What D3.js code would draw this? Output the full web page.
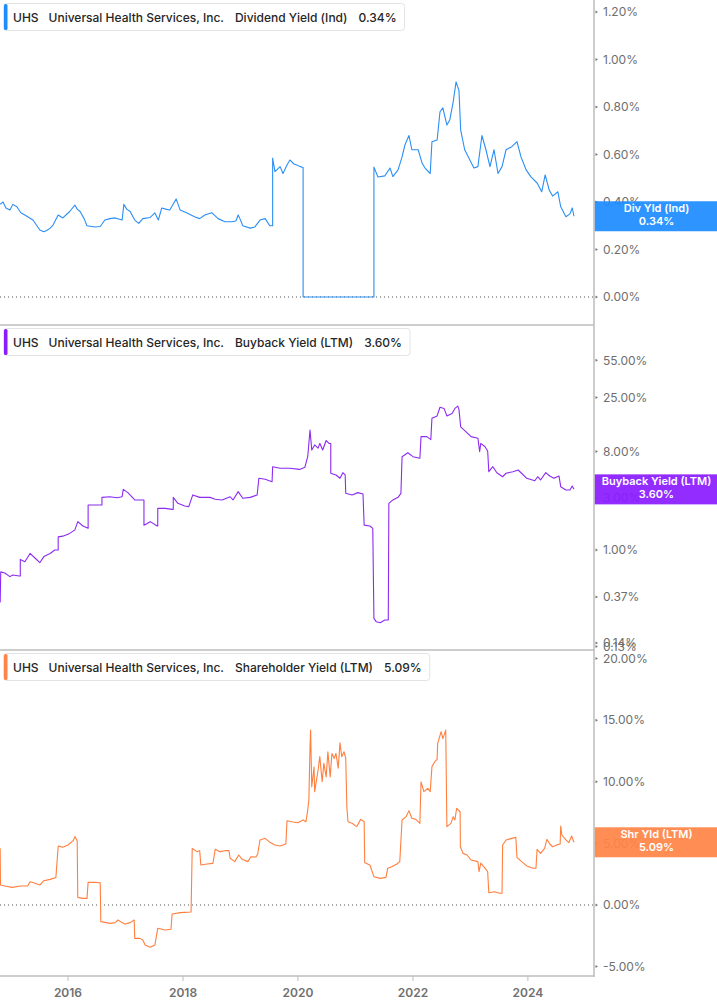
<!DOCTYPE html>
<html><head><meta charset="utf-8">
<script src="https://cdn.jsdelivr.net/npm/d3@7"></script>
<style>
html,body{margin:0;padding:0;background:#fff;}
svg{display:block;font-family:Inter,"Noto Sans",sans-serif;}
</style></head>
<body><svg id="c" width="717" height="1005"></svg>
<script>
// ---------- DATA (time in decimal years, values in %) ----------
const ticker = "UHS";
const company = "Universal Health Services, Inc.";
const seriesNames = ["Dividend Yield (Ind)", "Buyback Yield (LTM)", "Shareholder Yield (LTM)"];
const shortNames = ["Div Yld (Ind)", "Buyback Yield (LTM)", "Shr Yld (LTM)"];
const lastValues = [0.34, 3.60, 5.09];
const xTickYears = [2016, 2018, 2020, 2022, 2024];

const divTime = [2014.82,2014.87,2014.92,2014.99,2015.04,2015.11,2015.18,2015.25,2015.32,2015.39,2015.46,2015.51,2015.58,2015.63,2015.69,2015.74,2015.83,2015.91,2016.03,2016.12,2016.16,2016.21,2016.28,2016.33,2016.47,2016.56,2016.64,2016.73,2016.82,2016.94,2016.97,2017.02,2017.08,2017.16,2017.23,2017.30,2017.43,2017.51,2017.57,2017.63,2017.70,2017.77,2017.88,2017.95,2018.07,2018.21,2018.29,2018.38,2018.50,2018.61,2018.73,2018.85,2018.92,2018.96,2018.99,2019.04,2019.17,2019.25,2019.34,2019.43,2019.51,2019.56,2019.56,2019.60,2019.69,2019.74,2019.81,2019.86,2019.93,2019.98,2020.03,2020.09,2020.09,2021.32,2021.32,2021.39,2021.51,2021.60,2021.65,2021.74,2021.81,2021.86,2021.93,2021.98,2022.09,2022.16,2022.21,2022.30,2022.33,2022.42,2022.47,2022.52,2022.59,2022.64,2022.70,2022.75,2022.80,2022.83,2022.90,2022.99,2023.06,2023.13,2023.20,2023.27,2023.34,2023.41,2023.48,2023.55,2023.62,2023.72,2023.81,2023.88,2023.97,2024.05,2024.16,2024.24,2024.30,2024.37,2024.43,2024.52,2024.57,2024.66,2024.73,2024.77,2024.80];
const divValue = [0.39,0.40,0.375,0.366,0.39,0.38,0.355,0.345,0.335,0.324,0.30,0.282,0.275,0.28,0.29,0.303,0.345,0.333,0.36,0.387,0.37,0.36,0.33,0.30,0.295,0.297,0.324,0.33,0.333,0.324,0.39,0.37,0.36,0.324,0.31,0.33,0.335,0.354,0.324,0.375,0.37,0.366,0.413,0.366,0.354,0.337,0.33,0.345,0.355,0.33,0.317,0.317,0.32,0.345,0.33,0.30,0.29,0.295,0.324,0.33,0.30,0.30,0.585,0.528,0.549,0.52,0.556,0.577,0.56,0.556,0.55,0.545,0,0,0.547,0.505,0.51,0.543,0.507,0.535,0.59,0.64,0.68,0.62,0.62,0.563,0.543,0.52,0.654,0.661,0.78,0.796,0.724,0.745,0.822,0.906,0.87,0.703,0.62,0.577,0.543,0.549,0.68,0.62,0.549,0.62,0.52,0.549,0.62,0.633,0.654,0.59,0.535,0.507,0.48,0.443,0.514,0.45,0.425,0.443,0.38,0.338,0.35,0.375,0.34];

const bbTime = [2014.82,2014.83,2014.90,2014.99,2015.04,2015.15,2015.17,2015.17,2015.25,2015.34,2015.43,2015.51,2015.58,2015.69,2015.77,2015.83,2015.83,2015.91,2016.03,2016.12,2016.17,2016.26,2016.35,2016.35,2016.47,2016.56,2016.59,2016.59,2016.73,2016.85,2016.94,2016.96,2017.04,2017.16,2017.30,2017.32,2017.32,2017.43,2017.55,2017.56,2017.56,2017.69,2017.81,2017.83,2017.83,2017.91,2018.03,2018.10,2018.17,2018.29,2018.47,2018.56,2018.68,2018.82,2018.87,2018.96,2019.04,2019.17,2019.29,2019.32,2019.43,2019.55,2019.56,2019.69,2019.86,2020.03,2020.12,2020.17,2020.21,2020.24,2020.29,2020.35,2020.38,2020.43,2020.49,2020.54,2020.57,2020.57,2020.66,2020.73,2020.78,2020.82,2020.83,2020.94,2021.04,2021.13,2021.15,2021.25,2021.30,2021.32,2021.36,2021.43,2021.51,2021.57,2021.58,2021.65,2021.74,2021.79,2021.81,2021.91,2022.00,2022.12,2022.14,2022.24,2022.31,2022.33,2022.42,2022.47,2022.54,2022.59,2022.68,2022.73,2022.78,2022.80,2022.83,2022.92,2023.01,2023.13,2023.16,2023.18,2023.25,2023.30,2023.32,2023.39,2023.46,2023.56,2023.62,2023.74,2023.83,2023.89,2023.98,2024.12,2024.17,2024.22,2024.31,2024.38,2024.45,2024.54,2024.57,2024.66,2024.73,2024.77,2024.80];
const bbValue = [0.33,0.63,0.615,0.57,0.59,0.577,0.577,0.82,0.78,0.93,0.84,0.765,0.87,0.93,1.0,1.0,1.32,1.34,1.42,1.53,1.82,1.66,1.58,2.59,2.59,2.59,2.59,3.04,3.08,3.02,3.08,3.60,3.36,2.88,2.88,2.88,1.69,1.82,1.66,1.66,2.41,2.41,2.36,2.36,3.04,2.68,2.53,2.50,3.20,3.04,3.04,2.92,2.88,3.08,2.88,3.43,2.98,3.04,3.20,4.55,4.45,4.23,5.81,5.62,5.62,5.49,5.74,7.18,12.6,8.27,9.2,8.6,9.5,8.27,10.1,9.5,9.5,5.06,4.88,4.55,5.12,4.88,3.31,3.2,3.36,3.26,1.69,1.66,1.58,0.236,0.22,0.215,0.228,0.228,2.68,2.88,3.04,3.31,7.18,7.8,7.18,6.94,10.96,10.96,10.3,16.2,17.0,20.4,19.9,17.0,17.9,19.9,20.9,19.5,13.5,12.2,10.96,10.6,7.98,9.5,8.9,8.1,5.23,5.81,5.12,4.7,5.06,5.23,5.42,5.06,4.55,4.32,4.7,4.39,5.12,4.77,4.55,4.77,3.81,3.55,3.55,3.86,3.60];

const shrTime = [2014.82,2014.825,2014.90,2015.03,2015.17,2015.30,2015.34,2015.43,2015.51,2015.58,2015.69,2015.79,2015.83,2015.91,2016.00,2016.09,2016.12,2016.16,2016.17,2016.26,2016.33,2016.35,2016.47,2016.56,2016.57,2016.73,2016.82,2016.87,2016.94,2016.99,2017.08,2017.15,2017.16,2017.25,2017.30,2017.34,2017.43,2017.51,2017.56,2017.69,2017.79,2017.81,2017.95,2018.14,2018.16,2018.24,2018.29,2018.31,2018.42,2018.52,2018.56,2018.64,2018.73,2018.80,2018.82,2018.90,2018.97,2019.03,2019.13,2019.18,2019.27,2019.30,2019.34,2019.43,2019.51,2019.60,2019.69,2019.79,2019.81,2019.89,2020.00,2020.09,2020.14,2020.17,2020.19,2020.21,2020.22,2020.24,2020.28,2020.29,2020.35,2020.38,2020.42,2020.45,2020.49,2020.52,2020.56,2020.59,2020.63,2020.66,2020.70,2020.73,2020.76,2020.80,2020.83,2020.85,2020.87,2020.94,2021.02,2021.09,2021.15,2021.16,2021.25,2021.32,2021.43,2021.53,2021.56,2021.63,2021.72,2021.77,2021.81,2021.88,2021.93,2021.98,2022.05,2022.12,2022.14,2022.19,2022.26,2022.30,2022.33,2022.38,2022.42,2022.43,2022.49,2022.52,2022.57,2022.59,2022.66,2022.70,2022.73,2022.76,2022.82,2022.825,2022.87,2022.94,2023.01,2023.13,2023.15,2023.18,2023.27,2023.30,2023.32,2023.42,2023.51,2023.55,2023.56,2023.62,2023.72,2023.79,2023.81,2023.89,2023.98,2024.09,2024.14,2024.16,2024.22,2024.29,2024.33,2024.38,2024.43,2024.50,2024.56,2024.57,2024.59,2024.66,2024.71,2024.76,2024.80];
const shrValue = [4.6,1.62,1.54,1.43,1.54,1.54,1.89,1.76,1.62,1.97,2.08,2.24,4.79,4.68,4.87,5.22,5.55,5.22,0.62,0.54,0.54,1.84,1.84,1.80,-1.35,-1.49,-1.43,-1.22,-1.43,-1.54,-1.43,-1.22,-2.71,-2.71,-2.84,-3.25,-3.43,-3.25,-1.89,-2.03,-1.97,-0.73,-0.62,-0.57,4.6,4.33,4.41,3.25,3.33,3.38,4.52,4.33,4.41,4.41,3.79,3.52,4.06,3.71,3.52,3.92,3.9,4.14,5.28,5.41,5.1,4.87,4.79,4.95,6.84,6.76,6.68,6.9,6.76,7.71,8.52,12.85,14.2,9.6,11.2,9.2,10.96,12.04,10.0,11.5,10.4,12.44,10.4,12.3,11.9,12.3,11.1,13.17,12.04,12.44,11.9,7.85,6.76,6.63,6.36,6.95,6.76,3.43,3.25,2.3,2.16,2.24,2.98,3.11,3.33,3.52,6.9,7.17,7.66,7.04,6.95,6.63,10.0,9.2,9.47,9.2,11.23,11.63,11.82,13.12,14.07,13.5,14.2,6.36,6.63,7.17,6.9,7.85,7.57,4.73,4.19,4.06,3.65,3.52,2.7,3.4,2.89,2.7,1.0,1.08,0.95,0.95,4.87,5.28,5.41,5.49,3.87,3.52,3.17,2.98,2.98,4.52,4.19,4.6,5.33,4.95,4.73,4.87,4.95,6.41,5.68,5.28,5.06,5.6,5.09];

const divTicks = [0, 0.2, 0.4, 0.6, 0.8, 1.0, 1.2];
const bbTicks = [55, 25, 8, 3, 1, 0.37, 0.14, 0.13];
const shrTicks = [-5, 0, 5, 10, 15, 20];

const colors = ["#1e8cff", "#8a1cff", "#ff8447"];
const lineColors = ["#2a8ff5", "#8c2bf0", "#ff7f3e"];

// ---------- helpers ----------
function yd(t){ const y = Math.floor(t); const s = new Date(Date.UTC(y,0,1)), e = new Date(Date.UTC(y+1,0,1)); return new Date(s.getTime() + (t-y)*(e-s)); }
const svg = d3.select("#c");
const W = 717, axisX = 594;
const x = d3.scaleUtc().domain([yd(2014.817), yd(2025.148)]).range([0, axisX]);

const panels = [
  {top:0, bottom:325, y: d3.scaleLinear().domain([0,1.2]).range([297,12]), time: divTime, vals: divValue, ticks: divTicks, zero:true},
  {top:325, bottom:650, y: d3.scaleLog().domain([1,55]).range([550, 550-109*Math.log10(55)]), time: bbTime, vals: bbValue, ticks: bbTicks, zero:false},
  {top:650, bottom:976, y: d3.scaleLinear().domain([0,20]).range([905, 905-12.32*20]), time: shrTime, vals: shrValue, ticks: shrTicks, zero:true}
];

const fmt = v => v.toFixed(2) + "%";

panels.forEach((p, i) => {
  const g = svg.append("g");
  const cid = "clip"+i;
  svg.append("clipPath").attr("id", cid).append("rect").attr("x",0).attr("y",p.top).attr("width",axisX).attr("height",p.bottom-p.top);
  if (p.zero) {
    g.append("line").attr("x1",0).attr("x2",axisX).attr("y1",p.y(0)).attr("y2",p.y(0))
      .attr("stroke","#555").attr("stroke-width",1).attr("stroke-dasharray","1,3");
  }
  g.append("line").attr("x1",0).attr("x2",axisX).attr("y1",p.bottom).attr("y2",p.bottom)
    .attr("stroke","#bdbdbd").attr("stroke-width",1.5);
  const ax = g.append("g").attr("transform",`translate(${axisX},0)`);
  p.ticks.forEach(t => {
    const yy = p.y(t);
    ax.append("path").attr("d",`M1.5,${yy-1.5}L4,${yy}L1.5,${yy+1.5}Z`).attr("fill","#777");
    ax.append("text").attr("x",9).attr("y",yy).attr("dy","0.35em")
      .attr("font-size",12).attr("fill","#6e6e6e").text(fmt(t));
  });
  const data = p.time.map((t,k)=>({t:yd(t), v:p.vals[k]}));
  g.append("path").datum(data).attr("clip-path",`url(#${cid})`)
    .attr("fill","none").attr("stroke",lineColors[i]).attr("stroke-width",1.1).attr("stroke-linejoin","round")
    .attr("d", d3.line().x(d=>x(d.t)).y(d=>p.y(d.v)));
  const cy = p.y(lastValues[i]);
  const vb = g.append("g");
  vb.append("rect").attr("x",axisX+0.5).attr("y",cy-15).attr("width",W-axisX).attr("height",30)
    .attr("fill",colors[i]).attr("opacity",0.93);
  vb.append("text").attr("x",(axisX+W)/2+1).attr("y",cy-4).attr("text-anchor","middle")
    .attr("font-size",11).attr("font-weight",600).attr("fill","#fff").text(shortNames[i]);
  vb.append("text").attr("x",(axisX+W)/2+1).attr("y",cy+8.5).attr("text-anchor","middle")
    .attr("font-size",11).attr("font-weight",600).attr("fill","#fff").text(fmt(lastValues[i]));
  const lg = g.append("g").attr("transform",`translate(0,${p.top})`);
  const box = lg.append("rect").attr("x",3.5).attr("y",3.5).attr("height",27).attr("rx",3)
    .attr("fill","#fff").attr("stroke","#e3e3e3");
  lg.append("rect").attr("x",4).attr("y",4).attr("width",3.5).attr("height",26).attr("rx",1.5).attr("fill",colors[i]);
  let cx = 13;
  [ticker, company, seriesNames[i], fmt(lastValues[i])].forEach((s, k) => {
    const tx = lg.append("text").attr("x",cx).attr("y",22).attr("font-size",12)
      .attr("font-weight",500).attr("fill","#262626").text(s);
    cx += tx.node().getComputedTextLength() + (k===0 ? 10 : 11);
  });
  box.attr("width", cx - 11 + 8 - 3.5);
});

svg.append("line").attr("x1",axisX).attr("x2",axisX).attr("y1",0).attr("y2",977)
  .attr("stroke","#bdbdbd").attr("stroke-width",1.5);

const xa = svg.append("g");
xTickYears.forEach(yv => {
  const xx = x(yd(yv));
  xa.append("line").attr("x1",xx).attr("x2",xx).attr("y1",976).attr("y2",981).attr("stroke","#bdbdbd").attr("stroke-width",1);
  xa.append("text").attr("x",xx).attr("y",997).attr("text-anchor","middle")
    .attr("font-size",12).attr("font-weight",600).attr("fill","#707070").text(yv);
});
</script></body></html>
